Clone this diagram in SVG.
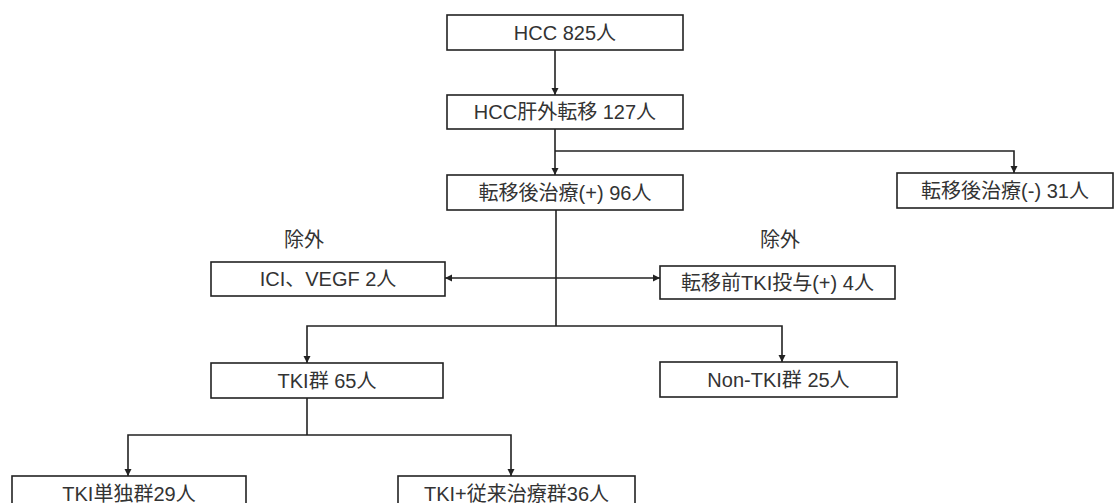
<svg xmlns="http://www.w3.org/2000/svg" width="1120" height="503" viewBox="0 0 1120 503">
<style>
.box{fill:#fff;stroke:#222;stroke-width:1.6}
.t{font-family:"Liberation Sans","Noto Sans CJK JP",sans-serif;font-size:20px;fill:#333;text-anchor:middle;dominant-baseline:central}
.ln{fill:none;stroke:#222;stroke-width:1.6}
</style>
<defs>
<marker id="ah" markerUnits="userSpaceOnUse" markerWidth="8" markerHeight="8" refX="7" refY="4" orient="auto">
<path d="M0,0.5 L7,4 L0,7.5 Z" fill="#222"/>
</marker>
<marker id="ahs" markerUnits="userSpaceOnUse" markerWidth="8" markerHeight="8" refX="0" refY="4" orient="auto">
<path d="M7,0.5 L0,4 L7,7.5 Z" fill="#222"/>
</marker>
</defs>
<rect width="1120" height="503" fill="#fff"/>
<g id="connectors">
<line class="ln" x1="555" y1="50" x2="555" y2="95" marker-end="url(#ah)"/>
<polyline class="ln" points="555,129 555,151 555,175" marker-end="url(#ah)"/>
<polyline class="ln" points="555,151 1014,151 1014,173" marker-end="url(#ah)"/>
<line class="ln" x1="556" y1="210" x2="556" y2="326"/>
<line class="ln" x1="445" y1="278" x2="660" y2="278" marker-start="url(#ahs)" marker-end="url(#ah)"/>
<polyline class="ln" points="556,326 307,326 307,363" marker-end="url(#ah)"/>
<polyline class="ln" points="556,326 782,326 782,362" marker-end="url(#ah)"/>
<line class="ln" x1="307" y1="398" x2="307" y2="435"/>
<polyline class="ln" points="307,435 128,435 128,476" marker-end="url(#ah)"/>
<polyline class="ln" points="307,435 511,435 511,476" marker-end="url(#ah)"/>
</g>
<g id="n1"><rect class="box" x="447" y="15" width="236" height="35"/><text class="t" x="565" y="32.5">HCC 825人</text></g>
<g id="n2"><rect class="box" x="447" y="95" width="236" height="34"/><text class="t" x="565" y="112">HCC肝外転移 127人</text></g>
<g id="n3"><rect class="box" x="447" y="175" width="236" height="35"/><text class="t" x="565" y="192.5">転移後治療(+) 96人</text></g>
<g id="n4"><rect class="box" x="897" y="173" width="216" height="35"/><text class="t" x="1005" y="190.5">転移後治療(-) 31人</text></g>
<g id="lbl1"><text class="t" x="304" y="240">除外</text></g>
<g id="lbl2"><text class="t" x="780" y="240">除外</text></g>
<g id="n5"><rect class="box" x="211" y="262" width="234" height="34"/><text class="t" x="328" y="279">ICI、VEGF 2人</text></g>
<g id="n6"><rect class="box" x="660" y="266" width="235" height="33"/><text class="t" x="777.5" y="282.5">転移前TKI投与(+) 4人</text></g>
<g id="n7"><rect class="box" x="211" y="363" width="232" height="35"/><text class="t" x="327" y="380.5">TKI群 65人</text></g>
<g id="n8"><rect class="box" x="660" y="362" width="237" height="35"/><text class="t" x="778.5" y="379.5">Non-TKI群 25人</text></g>
<g id="n9"><rect class="box" x="12" y="476" width="234" height="35"/><text class="t" x="129" y="493.5">TKI単独群29人</text></g>
<g id="n10"><rect class="box" x="398" y="476" width="237" height="35"/><text class="t" x="516.5" y="493.5">TKI+従来治療群36人</text></g>
</svg>
